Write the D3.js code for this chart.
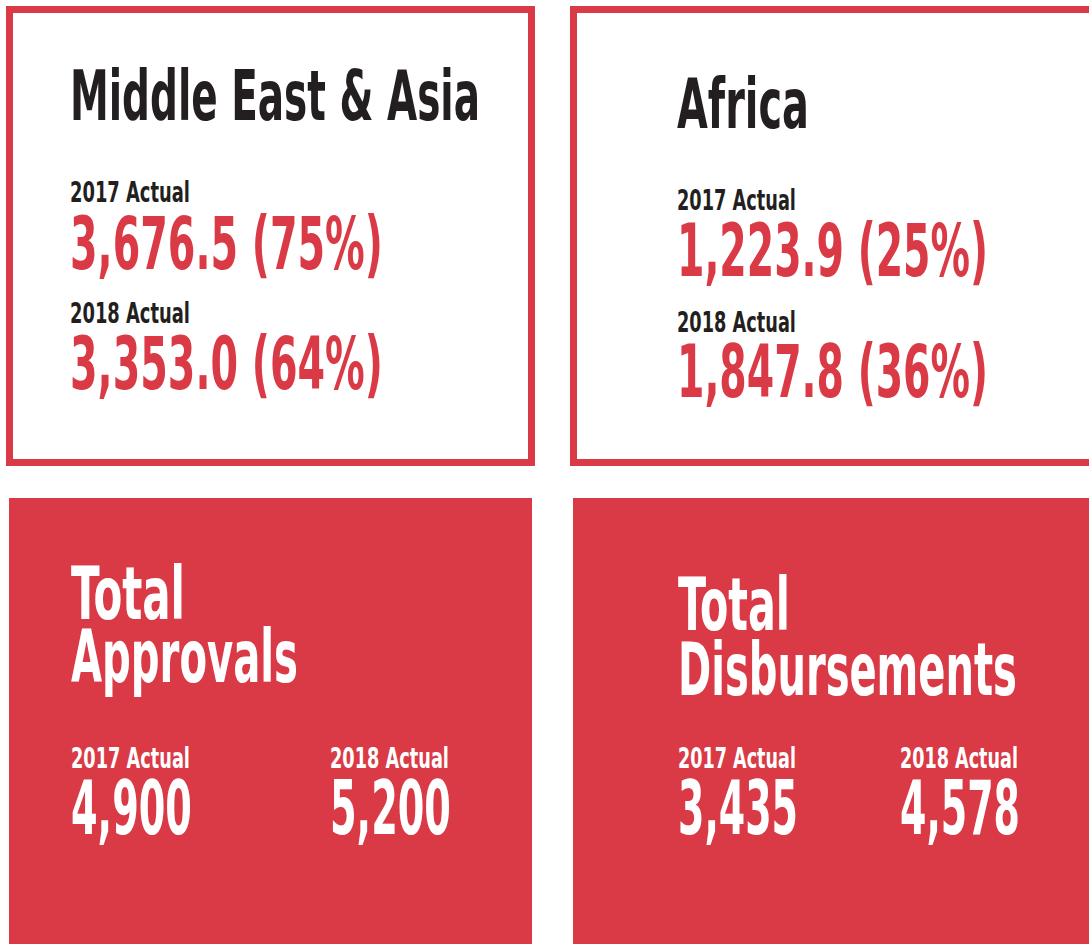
<!DOCTYPE html>
<html>
<head>
<meta charset="utf-8">
<script src="https://cdn.jsdelivr.net/npm/d3@7"></script>
<style>
  body { margin: 0; background: #fff; overflow: hidden; }
  text { font-family: "Liberation Sans Narrow", "DejaVu Sans Condensed", sans-serif; font-weight: bold; }
</style>
</head>
<body>
<svg id="svg0"></svg>
<script>
// data
var regions = ["Middle East & Asia", "Africa"];
var region2017 = [3676.5, 1223.9];
var regionShare2017 = [75, 25];
var region2018 = [3353.0, 1847.8];
var regionShare2018 = [64, 36];

var totalNames = [["Total", "Approvals"], ["Total", "Disbursements"]];
var total2017 = [4900, 3435];
var total2018 = [5200, 4578];

var yearLabels = ["2017 Actual", "2018 Actual"];

var red = "#da3a46", ink = "#231f20";
var width = 1089, height = 944;

var svg = d3.select("#svg0").attr("width", width).attr("height", height);

var fmtRegion = d3.format(",.1f");
var fmtTotal = d3.format(",");

// text widths (px) per panel, to squeeze the glyphs like the condensed face
var regionLayout = [
  { box: [6, 6, 529, 460], x: 70, titleY: 120, titleW: 410, lab1Y: 202, val1Y: 269, lab2Y: 323, val2Y: 389, labW: 120, valW: 313 },
  { box: [570, 6, 540, 460], x: 677, titleY: 128, titleW: 132, lab1Y: 210, val1Y: 276, lab2Y: 332, val2Y: 397, labW: 119, valW: 311 }
];
var totalLayout = [
  { box: [9, 498, 523, 460], x: 71, x2: 330, t1Y: 619, t2Y: 682, tW: [114, 227], labY: 768, valY: 834, labW: 119, valW: 121 },
  { box: [573, 498, 530, 460], x: 678, x2: 900, t1Y: 630, t2Y: 695, tW: [112, 339], labY: 768, valY: 834, labW: 118, valW: 120 }
];

// draw at natural size, then squeeze horizontally to the wanted width
function addText(g, str, x, y, size, w, fill) {
  var t = g.append("text")
    .attr("font-size", size)
    .attr("fill", fill)
    .text(str);
  var natural = t.node().getComputedTextLength();
  t.attr("transform", "translate(" + x + "," + y + ") scale(" + (w / natural) + ",1)");
}

// outlined region panels
regions.forEach(function (name, i) {
  var L = regionLayout[i];
  var g = svg.append("g");
  var sw = 7;
  g.append("rect")
    .attr("x", L.box[0] + sw / 2)
    .attr("y", L.box[1] + sw / 2)
    .attr("width", L.box[2] - sw)
    .attr("height", L.box[3] - sw)
    .attr("fill", "none")
    .attr("stroke", red)
    .attr("stroke-width", sw);

  addText(g, name, L.x, L.titleY, 69, L.titleW, ink);
  addText(g, yearLabels[0], L.x, L.lab1Y, 28, L.labW, ink);
  addText(g, fmtRegion(region2017[i]) + " (" + regionShare2017[i] + "%)", L.x, L.val1Y, 73, L.valW, red);
  addText(g, yearLabels[1], L.x, L.lab2Y, 28, L.labW, ink);
  addText(g, fmtRegion(region2018[i]) + " (" + regionShare2018[i] + "%)", L.x, L.val2Y, 73, L.valW, red);
});

// filled total panels
totalNames.forEach(function (lines, i) {
  var L = totalLayout[i];
  var g = svg.append("g");
  g.append("rect")
    .attr("x", L.box[0])
    .attr("y", L.box[1])
    .attr("width", L.box[2])
    .attr("height", L.box[3])
    .attr("fill", red);

  addText(g, lines[0], L.x, L.t1Y, 73, L.tW[0], "#fff");
  addText(g, lines[1], L.x, L.t2Y, 73, L.tW[1], "#fff");
  addText(g, yearLabels[0], L.x, L.labY, 28, L.labW, "#fff");
  addText(g, fmtTotal(total2017[i]), L.x, L.valY, 74, L.valW, "#fff");
  addText(g, yearLabels[1], L.x2, L.labY, 28, L.labW, "#fff");
  addText(g, fmtTotal(total2018[i]), L.x2, L.valY, 74, L.valW, "#fff");
});
</script>
</body>
</html>
